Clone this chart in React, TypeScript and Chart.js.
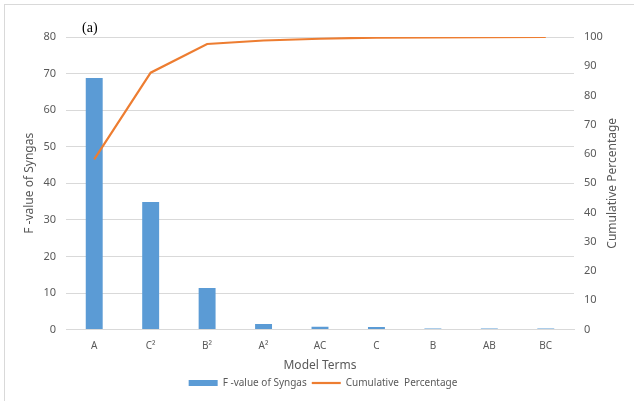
import React, { useEffect, useRef } from "react";
import { Chart, registerables } from "chart.js";
Chart.register(...registerables);

const categories = ["A", "C²", "B²", "A²", "AC", "C", "B", "AB", "BC"];
const fValues = [68.8, 34.9, 11.4, 1.5, 0.8, 0.7, 0.3, 0.3, 0.3];
const cumulative = [58.2, 87.8, 97.6, 98.8, 99.4, 99.8, 99.9, 99.95, 100];
const leftTicks = [0, 10, 20, 30, 40, 50, 60, 70, 80];
const rightTicks = [0, 10, 20, 30, 40, 50, 60, 70, 80, 90, 100];

const FONT = "'Noto Sans', 'Open Sans', sans-serif";
const TICK = "#595959";

export default function App() {
  const ref = useRef<HTMLCanvasElement>(null);
  useEffect(() => {
    document.body.style.margin = "0";
    const deco = {
      id: "deco",
      beforeDraw(c: any) {
        const ctx = c.ctx;
        ctx.save();
        ctx.fillStyle = "#fff";
        ctx.fillRect(0, 0, c.width, c.height);
        ctx.strokeStyle = "#d9d9d9";
        ctx.lineWidth = 1;
        ctx.strokeRect(4.5, 4.5, 800, 800);
        ctx.restore();
      },
      afterDraw(c: any) {
        const ctx = c.ctx;
        const area = c.chartArea;
        ctx.save();
        ctx.fillStyle = "#000";
        ctx.font = "14px 'Liberation Serif', serif";
        ctx.textBaseline = "middle";
        ctx.fillText("(a)", 82, 28);
        ctx.translate(613, (area.top + area.bottom) / 2);
        ctx.rotate(-Math.PI / 2);
        ctx.fillStyle = TICK;
        ctx.font = "12px " + FONT;
        ctx.textAlign = "center";
        ctx.fillText("Cumulative Percentage", 0, 0);
        ctx.restore();
      },
    };
    const chart = new Chart(ref.current!, {
      type: "bar",
      data: {
        labels: categories,
        datasets: [
          {
            type: "line",
            label: "Cumulative  Percentage",
            data: cumulative,
            yAxisID: "y1",
            borderColor: "#ED7D31",
            backgroundColor: "#ED7D31",
            borderWidth: 2.2,
            pointRadius: 0,
            tension: 0,
            order: 0,
          } as any,
          {
            type: "bar",
            label: "F -value of Syngas",
            data: fValues,
            yAxisID: "y",
            backgroundColor: "#5B9BD5",
            borderWidth: 0,
            barPercentage: 0.3,
            categoryPercentage: 1,
            order: 1,
          },
        ],
      },
      options: {
        responsive: false,
        animation: false,
        layout: { padding: { left: 22, right: 10, top: 37, bottom: 3 } },
        plugins: {
          tooltip: { enabled: false },
          legend: {
            position: "bottom",
            reverse: true,
            labels: {
              usePointStyle: true,
              pointStyleWidth: 29,
              boxHeight: 6,
              padding: 5,
              color: TICK,
              font: { family: FONT, size: 10 },
              generateLabels(c: any) {
                const items = Chart.defaults.plugins.legend.labels.generateLabels(c);
                return items.map((it: any) => {
                  const ds = c.data.datasets[it.datasetIndex];
                  if (ds.type === "line") {
                    it.pointStyle = "line";
                    it.lineWidth = 2.2;
                    it.strokeStyle = "#ED7D31";
                  } else {
                    it.pointStyle = "rect";
                    it.lineWidth = 0;
                  }
                  return it;
                });
              },
            },
          },
        },
        scales: {
          x: {
            grid: { display: false },
            border: { display: true, color: "#d9d9d9" },
            ticks: { color: TICK, font: { family: FONT, size: 10 }, padding: 3 },
            title: {
              display: true,
              text: "Model Terms",
              color: TICK,
              font: { family: FONT, size: 12 },
              padding: { top: 3, bottom: 0 },
            },
          },
          y: {
            position: "left",
            min: 0,
            max: 80,
            afterBuildTicks(s: any) {
              s.ticks = leftTicks.map((v) => ({ value: v }));
            },
            afterFit(s: any) {
              s.width = 44;
            },
            grid: { color: "#d9d9d9", drawTicks: false },
            border: { display: false },
            ticks: { color: TICK, font: { family: FONT, size: 11 }, padding: 10 },
            title: {
              display: true,
              text: "F -value of Syngas",
              color: TICK,
              font: { family: FONT, size: 12 },
              padding: { top: 0, bottom: 0 },
            },
          },
          y1: {
            position: "right",
            min: 0,
            max: 100,
            afterBuildTicks(s: any) {
              s.ticks = rightTicks.map((v) => ({ value: v }));
            },
            afterFit(s: any) {
              s.width = 50;
            },
            grid: { display: false, drawTicks: false },
            border: { display: false },
            ticks: { color: TICK, font: { family: FONT, size: 11 }, padding: 10 },
            title: { display: false },
          },
        },
      },
      plugins: [deco],
    });
    return () => chart.destroy();
  }, []);
  return (
    <div style={{ position: "fixed", left: 0, top: 0, width: 634, height: 401 }}>
      <canvas ref={ref} width={634} height={401} style={{ width: 634, height: 401 }} />
    </div>
  );
}
